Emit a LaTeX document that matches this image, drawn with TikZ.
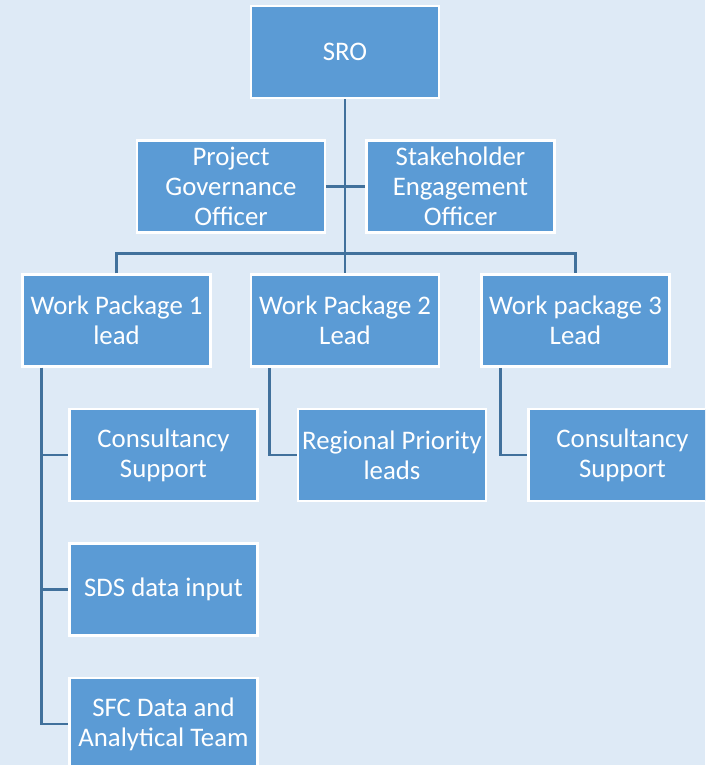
\documentclass[tikz,border=0pt]{standalone}
\usepackage{fontspec}
\setmainfont{Carlito}
\usetikzlibrary{positioning}
\definecolor{orgfill}{HTML}{5B9BD5}
\definecolor{orgline}{HTML}{41719C}
\definecolor{orgback}{HTML}{DEEAF6}

\begin{document}
\begin{tikzpicture}[
        unit/.style={rectangle, fill=orgfill, draw=white, line width=2.5pt, minimum width=188pt, minimum height=92pt, inner sep=2pt, text=white, align=center, font=\fontsize{26.8}{30}\selectfont},
        link/.style={draw=orgline, line width=2.8pt}]
        \clip (0,0) rectangle (705pt,-765pt);
        \fill [orgback] (0,0) rectangle (705pt,-765pt);
        \node (sro) [unit] at (345pt,-52pt) {SRO};
        \node (pgo) [unit, below=40pt of sro, xshift=-114pt] {Project\\Governance\\Officer};
        \node (seo) [unit, right=39pt of pgo] {Stakeholder\\Engagement\\Officer};
        \node (wp2) [unit, below=174pt of sro] {Work Package 2\\Lead};
        \node (wp1) [unit, left=38pt of wp2] {Work Package 1\\lead};
        \node (wp3) [unit, right=40pt of wp2] {Work package 3\\Lead};
        \node (cs1) [unit, below=40pt of wp1, xshift=47pt] {Consultancy\\Support};
        \node (sds) [unit, below=40pt of cs1] {SDS data input};
        \node (sfc) [unit, below=40pt of sds] {SFC Data and\\Analytical Team};
        \node (rpl) [unit, below=40pt of wp2, xshift=47pt] {Regional Priority\\leads};
        \node (cs3) [unit, below=40pt of wp3, xshift=47pt] {Consultancy\\Support};
        % tree lines
        \draw [link] (sro.south) -- (wp2.north);
        \draw [link] (pgo.east) -- (seo.west);
        \draw [link] (wp1.north) -- ++(0,20pt) -| (wp3.north);
        \coordinate (spine1) at ([xshift=20pt]wp1.south west);
        \coordinate (spine2) at ([xshift=20pt]wp2.south west);
        \coordinate (spine3) at ([xshift=20pt]wp3.south west);
        \foreach \kid in {cs1, sds, sfc}
            \draw [link] (spine1) |- (\kid.west);
        \draw [link] (spine2) |- (rpl.west);
        \draw [link] (spine3) |- (cs3.west);
    \end{tikzpicture}
\end{document}
